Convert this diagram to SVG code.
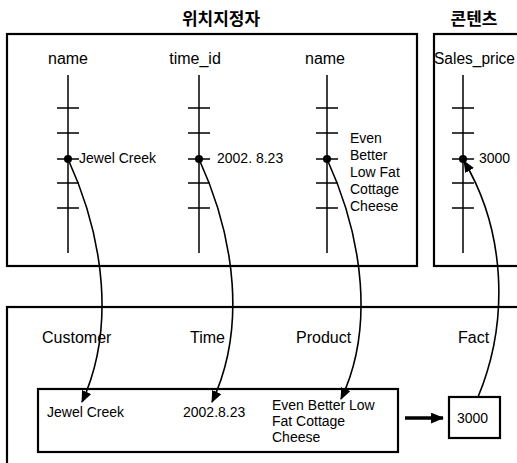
<svg xmlns="http://www.w3.org/2000/svg" width="517" height="463" viewBox="0 0 517 463">
<style>
.box{fill:none;stroke:#000;stroke-width:2.2}
.ax{stroke:#000;stroke-width:1.5;fill:none}
.t{font-family:"Liberation Sans","Noto Sans CJK KR",sans-serif;fill:#000}
.title{font-size:17px;font-weight:bold;text-anchor:middle}
.hd{font-size:16px}
.v{font-size:14px}
.c{fill:none;stroke:#000;stroke-width:1.6}
</style>
<defs>
<marker id="ah" viewBox="0 0 12 10" refX="11" refY="5" markerWidth="12" markerHeight="10" markerUnits="userSpaceOnUse" orient="auto">
<path d="M0,0 L12,5 L0,10 Z" fill="#000"/>
</marker>
<marker id="ah2" viewBox="0 0 12 10" refX="11" refY="5" markerWidth="13" markerHeight="11" markerUnits="userSpaceOnUse" orient="auto">
<path d="M0,0 L12,5 L0,10 Z" fill="#000"/>
</marker>
</defs>
<rect width="517" height="463" fill="#fff"/>

<g id="locator">
<text class="t title" x="221" y="25">위치지정자</text>
<rect class="box" x="7" y="34" width="410" height="232"/>
</g>
<g id="content">
<text class="t title" x="474" y="25">콘텐츠</text>
<rect class="box" x="434" y="34" width="90" height="232"/>
</g>

<g id="col-name1">
<text class="t hd" x="68" y="64" text-anchor="middle">name</text>
<path class="ax" d="M68,75V253M57,108H79M57,133H79M57,159H79M57,183H79M57,208H79"/>
<circle cx="68" cy="159" r="4"/>
<text class="t v" x="79" y="163">Jewel Creek</text>
</g>
<g id="col-time">
<text class="t hd" x="195" y="64" text-anchor="middle">time_id</text>
<path class="ax" d="M199,75V253M188,108H210M188,133H210M188,159H210M188,183H210M188,208H210"/>
<circle cx="199" cy="159" r="4"/>
<text class="t v" x="217" y="163">2002. 8.23</text>
</g>
<g id="col-name2">
<text class="t hd" x="325" y="64" text-anchor="middle">name</text>
<path class="ax" d="M327,75V253M316,108H338M316,133H338M316,159H338M316,183H338M316,208H338"/>
<circle cx="327" cy="159" r="4"/>
<text class="t v" x="350" y="143">Even</text>
<text class="t v" x="350" y="160">Better</text>
<text class="t v" x="350" y="177">Low Fat</text>
<text class="t v" x="350" y="194">Cottage</text>
<text class="t v" x="350" y="211">Cheese</text>
</g>
<g id="col-sales">
<text class="t hd" x="434" y="64" textLength="81" lengthAdjust="spacingAndGlyphs">Sales_price</text>
<path class="ax" d="M463,75V253M452,108H474M452,133H474M452,159H474M452,183H474M452,208H474"/>
<circle cx="463" cy="159" r="4"/>
<text class="t v" x="479" y="163">3000</text>
</g>

<g id="schema">
<rect class="box" x="7" y="307" width="520" height="170"/>
<text class="t hd" x="42" y="343">Customer</text>
<text class="t hd" x="190" y="343">Time</text>
<text class="t hd" x="296" y="343">Product</text>
<text class="t hd" x="458" y="343">Fact</text>
</g>
<g id="record">
<rect class="box" x="38" y="389" width="360" height="63"/>
<text class="t v" x="47" y="417">Jewel Creek</text>
<text class="t v" x="183" y="417">2002.8.23</text>
<text class="t v" x="272" y="410">Even Better Low</text>
<text class="t v" x="272" y="426">Fat Cottage</text>
<text class="t v" x="272" y="442">Cheese</text>
</g>
<g id="fact">
<rect class="box" x="449" y="397" width="51" height="41"/>
<text class="t v" x="457" y="423">3000</text>
</g>

<g id="connectors">
<path class="c" d="M68,159 C105,240 115,330 82,402" marker-end="url(#ah)"/>
<path class="c" d="M199,159 C236,240 246,330 212,402" marker-end="url(#ah)"/>
<path class="c" d="M327,159 C364,240 374,330 341,399" marker-end="url(#ah)"/>
<path class="c" d="M478,397 C510,320 505,230 464,161" marker-end="url(#ah)"/>
<line x1="405" y1="418" x2="443" y2="418" stroke="#000" stroke-width="3.5" marker-end="url(#ah2)"/>
</g>
</svg>
